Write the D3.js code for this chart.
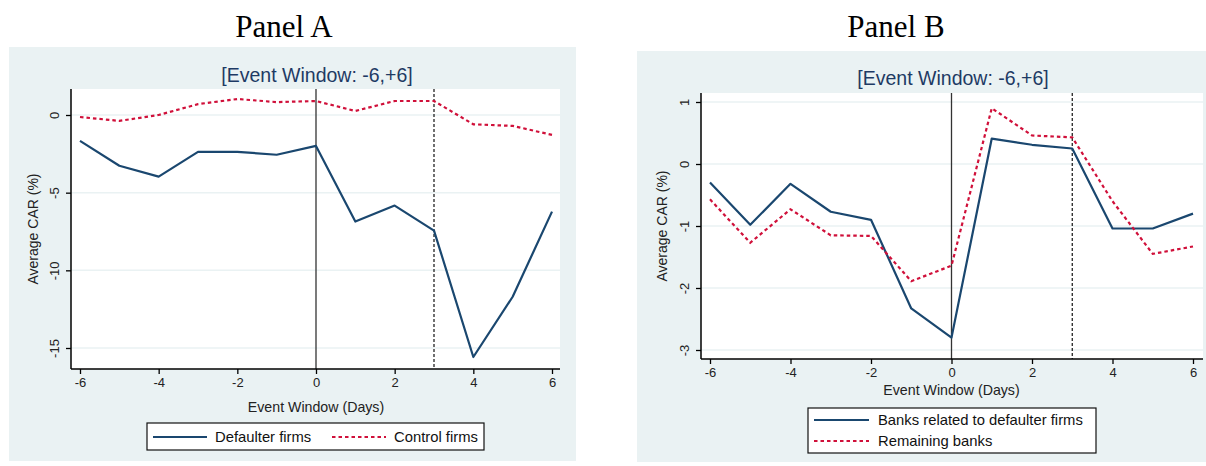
<!DOCTYPE html>
<html>
<head>
<meta charset="utf-8">
<script src="https://cdn.jsdelivr.net/npm/d3@7"></script>
<style>
  body { margin: 0; background: #fff; }
  svg { display: block; font-family: "Liberation Sans", Arial, sans-serif; }
</style>
</head>
<body>
<svg id="chart" width="1206" height="466"></svg>
<script>
// DATA
var days = [-6, -5, -4, -3, -2, -1, 0, 1, 2, 3, 4, 5, 6];
var xTicks = [-6, -4, -2, 0, 2, 4, 6];

// panel A
var defaulterFirms = [-1.67, -3.27, -3.97, -2.37, -2.37, -2.56, -1.99, -6.86, -5.83, -7.44, -15.58, -11.7, -6.22];
var controlFirms = [-0.13, -0.38, 0.0, 0.7, 1.03, 0.83, 0.9, 0.26, 0.9, 0.9, -0.6, -0.7, -1.28];
var yTicksA = [0, -5, -10, -15];

// panel B
var banksRelated = [-0.30, -0.98, -0.32, -0.77, -0.90, -2.33, -2.80, 0.41, 0.31, 0.25, -1.04, -1.04, -0.80];
var remainingBanks = [-0.57, -1.27, -0.73, -1.15, -1.16, -1.89, -1.64, 0.90, 0.46, 0.43, -0.60, -1.45, -1.33];
var yTicksB = [1, 0, -1, -2, -3];

var eventLines = [0, 3];

var svg = d3.select("#chart");

var navy = "#1a476f", red = "#d0103a", bg = "#eaf2f3";

// plain hyphen, like the original
var fmt = function(d) { return String(d); };

function drawPanel(p) {
    var g = svg.append("g");

    // panel heading
    g.append("text").attr("x", p.headX).attr("y", 37)
        .attr("text-anchor", "middle")
        .style("font-family", "'Liberation Serif', 'Times New Roman', serif")
        .style("font-size", "31px")
        .text(p.head);

    g.append("rect").attr("x", p.bg[0]).attr("y", p.bg[1])
        .attr("width", p.bg[2] - p.bg[0]).attr("height", p.bg[3] - p.bg[1])
        .attr("fill", bg);

    g.append("rect").attr("x", p.plot[0]).attr("y", p.plot[1])
        .attr("width", p.plot[2] - p.plot[0]).attr("height", p.plot[3] - p.plot[1])
        .attr("fill", "#fff");

    var x = d3.scaleLinear().domain([-6, 6]).range(p.xRange);
    var y = d3.scaleLinear().domain(p.yDomain).range(p.yRange);

    // gridlines
    g.selectAll(".grid").data(p.yTicks).enter().append("line")
        .attr("x1", p.plot[0]).attr("x2", p.plot[2])
        .attr("y1", function(d) { return y(d); })
        .attr("y2", function(d) { return y(d); })
        .attr("stroke", bg).attr("stroke-width", 1.5);

    // title
    g.append("text").attr("x", p.titleX).attr("y", p.titleY)
        .attr("text-anchor", "middle")
        .attr("fill", "#1e3a64")
        .style("font-size", "19.5px")
        .text("[Event Window: -6,+6]");

    // event lines
    g.append("line")
        .attr("x1", x(eventLines[0])).attr("x2", x(eventLines[0]))
        .attr("y1", p.plot[1]).attr("y2", p.plot[3])
        .attr("stroke", "#333").attr("stroke-width", 1.3);
    g.append("line")
        .attr("x1", x(eventLines[1])).attr("x2", x(eventLines[1]))
        .attr("y1", p.plot[1]).attr("y2", p.plot[3])
        .attr("stroke", "#111").attr("stroke-width", 1.2)
        .attr("stroke-dasharray", "3,2");

    // series
    var line = d3.line()
        .x(function(d, i) { return x(days[i]); })
        .y(function(d) { return y(d); });

    g.append("path").datum(p.series[0])
        .attr("d", line).attr("fill", "none")
        .attr("stroke", navy).attr("stroke-width", 2.2)
        .attr("stroke-linejoin", "round");
    g.append("path").datum(p.series[1])
        .attr("d", line).attr("fill", "none")
        .attr("stroke", red).attr("stroke-width", 2.2)
        .attr("stroke-dasharray", "3.5,3");

    // axes
    var yAxis = d3.axisLeft(y).tickValues(p.yTicks).tickSize(5).tickFormat(fmt);
    var ya = g.append("g").attr("transform", "translate(" + p.plot[0] + ",0)").call(yAxis);
    ya.select(".domain").attr("d", "M0," + p.plot[1] + "V" + p.plot[3]).attr("stroke-width", 1.5);
    ya.selectAll(".tick line").attr("stroke-width", 1.3);
    ya.selectAll(".tick text")
        .attr("x", 0).attr("dy", null)
        .attr("text-anchor", "middle")
        .attr("transform", "translate(-12,0) rotate(-90)")
        .style("font-size", "13px").attr("fill", "#222");

    var xAxis = d3.axisBottom(x).tickValues(xTicks).tickSize(5).tickFormat(fmt);
    var xa = g.append("g").attr("transform", "translate(0," + p.plot[3] + ")").call(xAxis);
    xa.select(".domain").attr("d", "M" + p.plot[0] + ",0H" + p.plot[2]).attr("stroke-width", 1.5);
    xa.selectAll(".tick line").attr("stroke-width", 1.3);
    xa.selectAll(".tick text").attr("y", 9).style("font-size", "13px").attr("fill", "#222");

    g.append("text")
        .attr("transform", "translate(" + p.yTitleX + "," + ((p.plot[1] + p.plot[3]) / 2) + ") rotate(-90)")
        .attr("text-anchor", "middle").attr("dy", "0.35em")
        .style("font-size", "14px").attr("fill", "#222")
        .text("Average CAR (%)");

    g.append("text")
        .attr("x", x(0)).attr("y", p.xTitleY)
        .attr("text-anchor", "middle").attr("dy", "0.35em")
        .style("font-size", "14.2px").attr("fill", "#222")
        .text("Event Window (Days)");

    // legend
    var L = p.legend;
    g.append("rect").attr("x", L.box[0]).attr("y", L.box[1])
        .attr("width", L.box[2] - L.box[0]).attr("height", L.box[3] - L.box[1])
        .attr("fill", "#fff").attr("stroke", "#111").attr("stroke-width", 1.2);
    L.items.forEach(function(it, i) {
        g.append("line").attr("x1", it.x1).attr("x2", it.x2)
            .attr("y1", it.y).attr("y2", it.y)
            .attr("stroke", i == 0 ? navy : red).attr("stroke-width", 2.2)
            .attr("stroke-dasharray", i == 0 ? null : "3.5,3");
        g.append("text").attr("x", it.tx).attr("y", it.y).attr("dy", "0.35em")
            .style("font-size", "14.8px").attr("fill", "#111")
            .text(it.label);
    });
}

drawPanel({
    head: "Panel A", headX: 284,
    bg: [9, 47, 576, 461],
    plot: [71, 89, 560, 369],
    xRange: [80, 552],
    yDomain: [0, -15], yRange: [115, 348],
    yTicks: yTicksA,
    series: [defaulterFirms, controlFirms],
    titleX: 317, titleY: 82,
    yTitleX: 33, xTitleY: 407,
    legend: {
        box: [147, 423, 484, 450],
        items: [
            { x1: 153, x2: 207, y: 437, tx: 215, label: "Defaulter firms" },
            { x1: 332, x2: 386, y: 437, tx: 394, label: "Control firms" }
        ]
    }
});

drawPanel({
    head: "Panel B", headX: 896,
    bg: [637, 51, 1206, 462],
    plot: [701, 93, 1203, 359],
    xRange: [710, 1193],
    yDomain: [1, -3], yRange: [102, 350],
    yTicks: yTicksB,
    series: [banksRelated, remainingBanks],
    titleX: 953, titleY: 85,
    yTitleX: 662, xTitleY: 390,
    legend: {
        box: [808, 408, 1096, 453],
        items: [
            { x1: 814, x2: 869, y: 420, tx: 878, label: "Banks related to defaulter firms" },
            { x1: 814, x2: 869, y: 441, tx: 878, label: "Remaining banks" }
        ]
    }
});
</script>
</body>
</html>
